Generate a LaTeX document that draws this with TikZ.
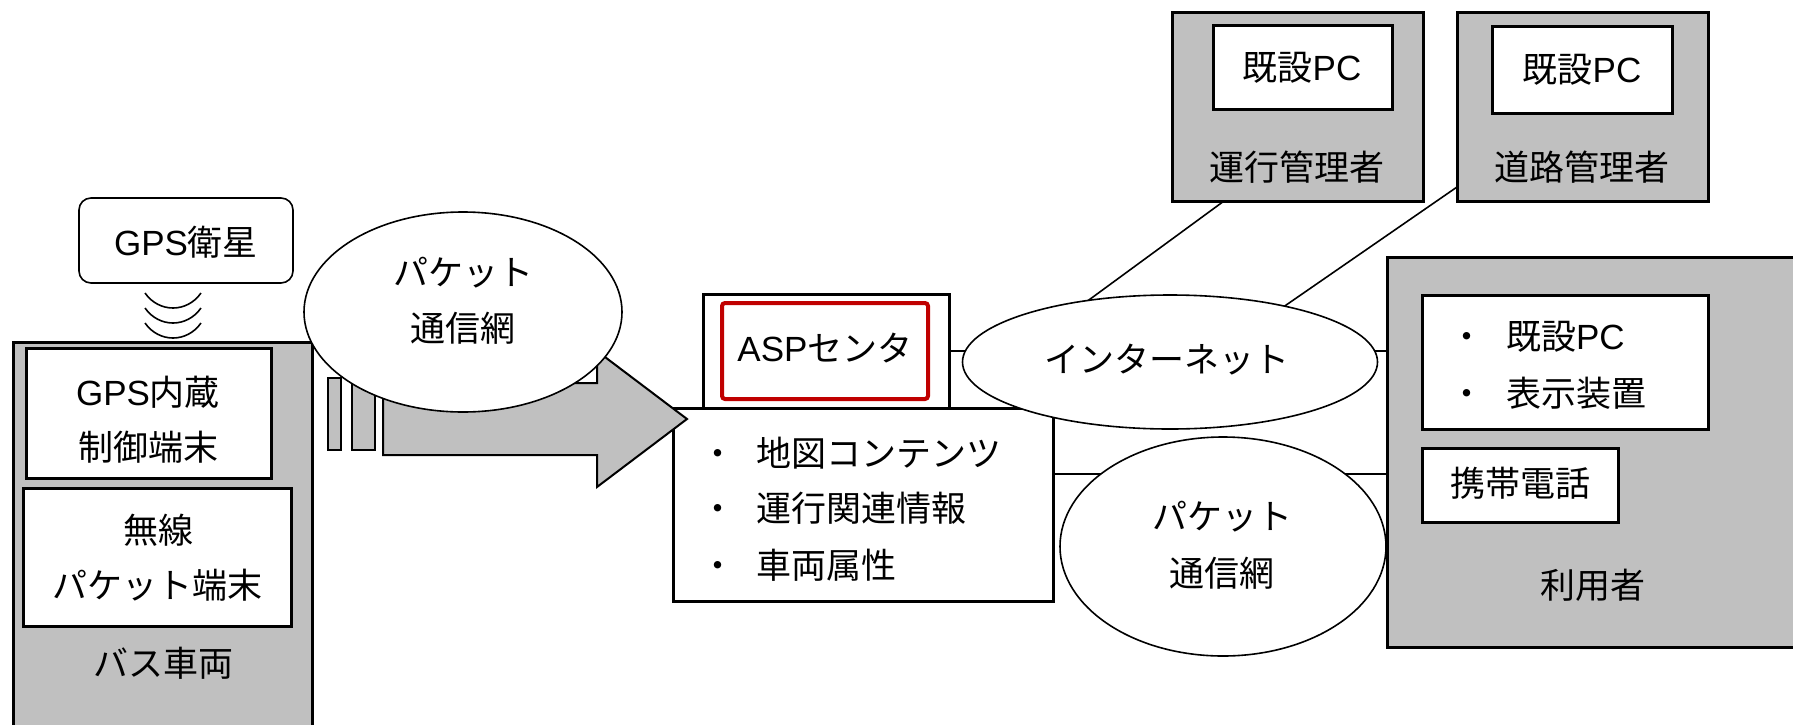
\documentclass[tikz,border=0pt]{standalone}
\usepackage{fontspec}
\setmainfont{Noto Sans CJK JP}
\newfontfamily\latin{Liberation Sans}
\usetikzlibrary{shapes.geometric,backgrounds}
\definecolor{boxgray}{HTML}{C0C0C0}
\definecolor{aspred}{HTML}{C00000}
\begin{document}
\begin{tikzpicture}[x=0.5pt,y=-0.5pt,
  every node/.style={font=\fontsize{17.5}{27.5}\selectfont, inner sep=0pt, outer sep=0pt},
  graybox/.style={draw, rectangle, line width=1.5pt, fill=boxgray},
  whitebox/.style={draw, rectangle, line width=1.5pt, fill=white},
  cloud/.style={draw, ellipse, line width=0.8pt, fill=white},
  conn/.style={draw, line width=1.2pt},
  thinconn/.style={draw, line width=0.8pt},
  barbox/.style={draw, rectangle, line width=1.2pt, fill=boxgray}]
\useasboundingbox (0,0) rectangle (1793,724);
\clip (0,0) rectangle (1793,724);

% ---- bus side ----
\node[graybox, minimum width=149.5pt, minimum height=209pt] (bus) at (162.5,551) {};
\node[whitebox, minimum width=122.5pt, minimum height=65pt] (gpsin) at (148.5,413) {};
\node (gpsinA) at (148,392) {{\latin GPS}内蔵};
\node (gpsinB) at (148,447) {制御端末};
\node[whitebox, minimum width=134pt, minimum height=69pt] (musen) at (157,557) {};
\node (musenA) at (158,530) {無線};
\node (musenB) at (157,585) {パケット端末};
\node (buslbl) at (163,663) {バス車両};

\node[draw, rectangle, rounded corners=6pt, line width=0.8pt, fill=white,
      minimum width=107pt, minimum height=42.5pt] (gps) at (186,240.5) {};
\node (gpslbl) at (186,242) {{\latin GPS}衛星};
\foreach \d in {0,15,30}
  \draw[line width=0.8pt] (145,{293+\d}) .. controls (159,{313+\d}) and (187,{313+\d}) .. (201,{293+\d});

\node[barbox, minimum width=6.5pt, minimum height=36pt] (bar1) at (334.5,414) {};
\node[barbox, minimum width=11.5pt, minimum height=36pt] (bar2) at (363.5,414) {};

% ---- ASP centre ----
\node[whitebox, minimum width=123pt, minimum height=57pt] (aspout) at (826,351) {};
\node[draw=aspred, rectangle, rounded corners=1.5pt, line width=2pt, fill=white,
      minimum width=103pt, minimum height=48pt] (asp) at (825,351) {};
\node (asplbl) at (825,348) {{\latin ASP}センタ};
\node[whitebox, minimum width=190pt, minimum height=96.5pt] (lower) at (863,504.5) {};
\node[anchor=west] (itemA) at (700,453) {・\hspace{11pt}地図コンテンツ};
\node[anchor=west] (itemB) at (700,508) {・\hspace{11pt}運行関連情報};
\node[anchor=west] (itemC) at (700,565) {・\hspace{11pt}車両属性};

% ---- arrow ----
\draw[fill=boxgray, line width=1pt] (383,383) -- (597,383) -- (597,351) -- (687,419)
  -- (597,487) -- (597,455) -- (383,455) -- cycle;

% ---- left packet network ----
\node[cloud, minimum width=159pt, minimum height=100pt] (pnet1) at (463,312) {};
\node (pnet1A) at (463,273) {パケット};
\node (pnet1B) at (463,328) {通信網};

% ---- user ----
\node[graybox, minimum width=216.5pt, minimum height=195pt] (user) at (1603.5,452) {};
\node[whitebox, minimum width=143pt, minimum height=67pt] (userpc) at (1565,362) {};
\node[anchor=west] (userA) at (1449,337) {・\hspace{11pt}既設{\latin PC}};
\node[anchor=west] (userB) at (1449,393) {・\hspace{11pt}表示装置};
\node[whitebox, minimum width=98pt, minimum height=37pt] (phone) at (1520,485) {};
\node (phonelbl) at (1520,483) {携帯電話};
\node (userlbl) at (1593,585) {利用者};

% ---- managers ----
\node[graybox, minimum width=125.5pt, minimum height=94.5pt] (op) at (1297.5,106.5) {};
\node[whitebox, minimum width=89.5pt, minimum height=42pt] (oppc) at (1302.5,67) {};
\node (oppclbl) at (1302,68) {既設{\latin PC}};
\node (oplbl) at (1297,167) {運行管理者};
\node[graybox, minimum width=125.5pt, minimum height=94.5pt] (road) at (1582.5,106.5) {};
\node[whitebox, minimum width=90pt, minimum height=43.5pt] (roadpc) at (1582,69.5) {};
\node (roadpclbl) at (1582,70) {既設{\latin PC}};
\node (roadlbl) at (1582,167) {道路管理者};

% ---- networks right ----
\node[cloud, minimum width=207.5pt, minimum height=67pt] (inet) at (1170,362) {};
\node (inetlbl) at (1167,360) {インターネット};
\node[cloud, minimum width=163pt, minimum height=109.5pt] (pnet2) at (1223,546.5) {};
\node (pnet2A) at (1222,517) {パケット};
\node (pnet2B) at (1222,573) {通信網};

% ---- connectors ----
\coordinate (ly) at (0,474);
\begin{pgfonlayer}{background}
\draw[conn] (aspout.east) -- (aspout.east -| user.west);
\draw[conn] (lower.east |- ly) -- (user.west |- ly);
\end{pgfonlayer}
\draw[thinconn] ([xshift=26pt]op.south west) -- (inet.143);
\draw[thinconn] ([yshift=7pt]road.south west) -- (inet.26);
\end{tikzpicture}
\end{document}
